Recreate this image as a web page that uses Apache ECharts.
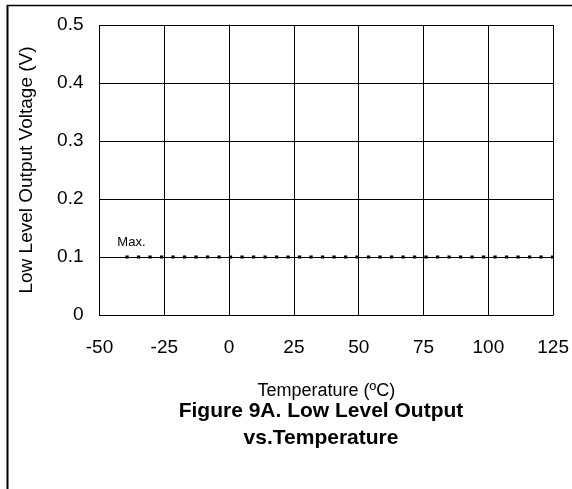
<!DOCTYPE html>
<html>
<head>
<meta charset="utf-8">
<script src="https://cdn.jsdelivr.net/npm/echarts@6/dist/echarts.min.js"></script>
<style>
html,body{margin:0;padding:0;background:#fff;}
#c{width:572px;height:489px;}
</style>
</head>
<body>
<div id="c"></div>
<script>
var xTicks = [-50, -25, 0, 25, 50, 75, 100, 125];
var yTicks = [0, 0.1, 0.2, 0.3, 0.4, 0.5];
var maxTemps = [-40, 125];
var maxVoltage = [0.1, 0.1];
var labelText = 'Max.';

var sans = "'Liberation Sans', Arial, sans-serif";

var chart = echarts.init(document.getElementById('c'), null, {renderer: 'canvas'});
var data = maxTemps.map(function (t, i) {
  return {value: [t, maxVoltage[i]]};
});
chart.setOption({
  animation: false,
  backgroundColor: '#fff',
  title: {
    text: 'Figure 9A. Low Level Output\nvs.Temperature',
    left: 316, top: 393, textAlign: 'center',
    textStyle: {fontFamily: sans, fontWeight: 'bold', fontSize: 21, lineHeight: 27, color: '#000'}
  },
  graphic: [
    {type: 'line', shape: {x1: 7.5, y1: 5, x2: 7.5, y2: 489}, style: {stroke: '#000', lineWidth: 2}},
    {type: 'line', shape: {x1: 7, y1: 5.5, x2: 572, y2: 5.5}, style: {stroke: '#000', lineWidth: 1.3}}
  ],
  grid: {left: 99.5, right: 18, top: 25, bottom: 174, show: false},
  xAxis: {
    type: 'value', min: xTicks[0], max: xTicks[xTicks.length - 1], interval: 25,
    name: 'Temperature (ºC)', nameLocation: 'middle', nameGap: 67,
    nameTextStyle: {fontFamily: sans, fontSize: 18, color: '#000'},
    axisLine: {show: true, lineStyle: {color: '#000', width: 1}},
    axisTick: {show: false},
    axisLabel: {fontFamily: sans, fontSize: 19, color: '#000', margin: 23},
    splitLine: {show: true, lineStyle: {color: '#000', width: 1}}
  },
  yAxis: {
    type: 'value', min: yTicks[0], max: yTicks[yTicks.length - 1], interval: 0.1,
    name: 'Low Level Output Voltage (V)', nameLocation: 'middle', nameGap: 63,
    nameTextStyle: {fontFamily: sans, fontSize: 19, color: '#000'},
    axisLine: {show: true, lineStyle: {color: '#000', width: 1}},
    axisTick: {show: false},
    axisLabel: {fontFamily: sans, fontSize: 19, color: '#000', margin: 16,
      formatter: function (v) { return String(Math.round(v * 10) / 10); }},
    splitLine: {show: true, lineStyle: {color: '#000', width: 1}}
  },
  series: [{
    type: 'line', data: data, symbol: 'circle', symbolSize: 1, showSymbol: true,
    itemStyle: {color: 'rgba(0,0,0,0)', borderWidth: 0},
    label: {
      show: true, position: 'top', offset: [6, -3], color: '#000', fontSize: 13, fontFamily: sans,
      formatter: function (p) { return p.dataIndex === 0 ? labelText : ''; }
    },
    lineStyle: {color: '#000', width: 2.8, type: [3.3, 8.2], cap: 'butt'}
  }]
});
</script>
</body>
</html>
